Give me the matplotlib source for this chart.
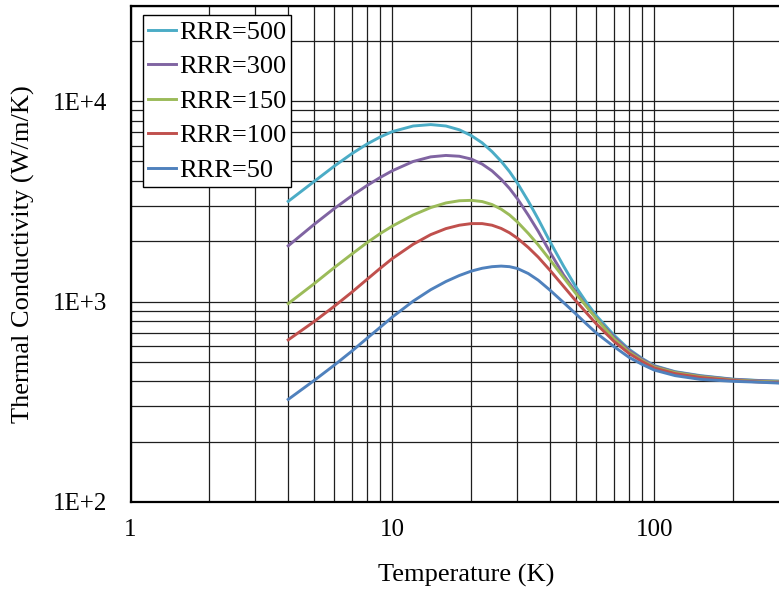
import matplotlib
matplotlib.use("Agg")
import matplotlib.pyplot as plt
from matplotlib.ticker import LogLocator, FixedLocator, FixedFormatter, NullFormatter

plt.rcParams['font.family'] = ['Liberation Serif', 'DejaVu Serif']

temperature = [4, 5, 6, 7, 8, 9, 10, 12, 14, 16, 18, 20, 22, 24, 26, 28, 30, 33,
               36, 40, 45, 50, 55, 60, 70, 80, 90, 100, 120, 150, 200, 250, 300]

rrr500 = [3162, 3954, 4742, 5470, 6109, 6637, 7047, 7516, 7638, 7516, 7194, 6730,
          6194, 5598, 5012, 4446, 3899, 3170, 2582, 1982, 1503, 1191, 991, 851,
          681, 578, 519, 479, 447, 427, 410, 404, 401]
rrr300 = [1897, 2415, 2911, 3373, 3793, 4169, 4498, 5000, 5272, 5358, 5309, 5140,
          4853, 4487, 4074, 3664, 3258, 2698, 2244, 1758, 1358, 1122, 951, 826,
          667, 571, 515, 476, 445, 425, 409, 403, 400]
rrr150 = [977, 1222, 1479, 1726, 1968, 2188, 2382, 2704, 2944, 3105, 3184, 3199,
          3155, 3048, 2891, 2704, 2495, 2188, 1919, 1611, 1318, 1102, 946, 822,
          653, 560, 507, 471, 442, 422, 406, 400, 397]
rrr100 = [644, 791, 948, 1114, 1291, 1469, 1641, 1932, 2158, 2312, 2404, 2449,
          2449, 2404, 2317, 2203, 2070, 1862, 1667, 1429, 1191, 1012, 879, 774,
          634, 551, 501, 466, 437, 418, 404, 397, 394]
rrr50 = [325, 402, 482, 566, 656, 746, 838, 1005, 1146, 1259, 1349, 1419, 1466,
         1493, 1503, 1493, 1462, 1380, 1279, 1138, 989, 871, 774, 697, 597, 527,
         485, 455, 427, 409, 400, 396, 392]

series_labels = ['RRR=500', 'RRR=300', 'RRR=150', 'RRR=100', 'RRR=50']
series_values = [rrr500, rrr300, rrr150, rrr100, rrr50]
series_colors = ['#4BACC6', '#8064A2', '#9BBB59', '#C0504D', '#4F81BD']

y_ticks = [100, 1000, 10000]
y_tick_labels = ['1E+2', '1E+3', '1E+4']
x_ticks = [1, 10, 100]
x_tick_labels = ['1', '10', '100']

W, H = 779, 589
fig = plt.figure(figsize=(W / 100, H / 100), dpi=100)
left_px, right_px, top_px, bottom_px = 130.5, 779, 5.5, 502
ax = fig.add_axes([left_px / W, 1 - bottom_px / H,
                   (right_px - left_px) / W, (bottom_px - top_px) / H])

for lab, vals, col in zip(series_labels, series_values, series_colors):
    ax.plot(temperature, vals, color=col, lw=2.1, label=lab, zorder=3,
            solid_joinstyle='round')

ax.set_xscale('log')
ax.set_yscale('log')
ax.set_xlim(1, 299)
ax.set_ylim(100, 30000)

ax.xaxis.set_major_locator(FixedLocator(x_ticks))
ax.xaxis.set_major_formatter(FixedFormatter(x_tick_labels))
ax.yaxis.set_major_locator(FixedLocator(y_ticks))
ax.yaxis.set_major_formatter(FixedFormatter(y_tick_labels))
ax.xaxis.set_minor_locator(LogLocator(base=10, subs=range(2, 10), numticks=20))
ax.yaxis.set_minor_locator(LogLocator(base=10, subs=range(2, 10), numticks=20))
ax.xaxis.set_minor_formatter(NullFormatter())
ax.yaxis.set_minor_formatter(NullFormatter())

ax.grid(True, which='both', color='#1e1e1e', lw=0.9, zorder=0)
ax.set_axisbelow(True)

ax.tick_params(axis='both', which='both', length=0)
ax.tick_params(axis='x', labelsize=18, pad=12)
ax.tick_params(axis='y', labelsize=18, pad=17)

for s in ['left', 'bottom', 'top']:
    ax.spines[s].set_linewidth(1.6)
    ax.spines[s].set_color('black')
ax.spines['right'].set_visible(False)

ax.set_xlabel('Temperature (K)', fontsize=19)
ax.set_ylabel('Thermal Conductivity (W/m/K)', fontsize=19)
ax.xaxis.set_label_coords((466.5 - left_px) / (right_px - left_px), -0.125)
ax.yaxis.set_label_coords((35 - left_px) / (right_px - left_px), 0.5)

leg = ax.legend(loc='upper left',
                bbox_to_anchor=((143 - left_px) / (right_px - left_px),
                                (bottom_px - 15) / (bottom_px - top_px)),
                borderaxespad=0, fontsize=19, frameon=True, fancybox=False,
                edgecolor='black', framealpha=1, handlelength=1.06,
                handletextpad=0.1, borderpad=0.2, labelspacing=0.42)
leg.get_frame().set_linewidth(1.0)
for line in leg.get_lines():
    line.set_linewidth(2.1)

fig.savefig('out.png', dpi=100)
